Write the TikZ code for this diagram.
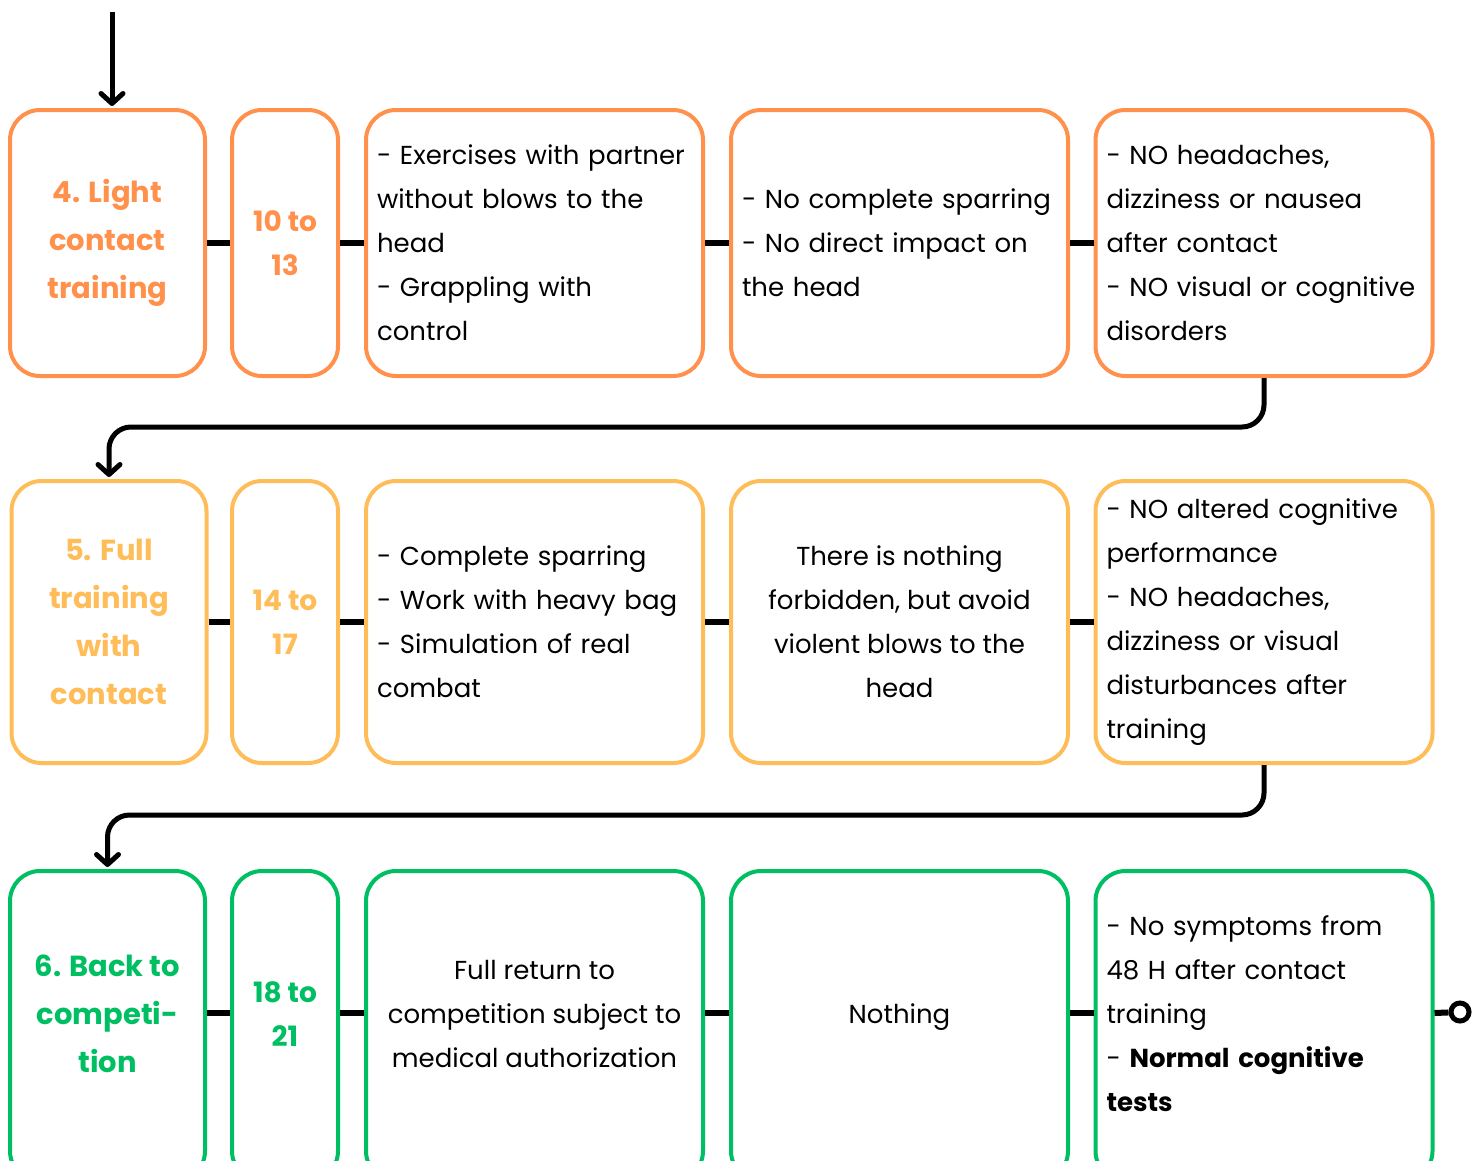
\documentclass[tikz,border=0pt]{standalone}
\usepackage{fontspec}
\setmainfont{Poppins}
\usetikzlibrary{arrows.meta}
\definecolor{lightorange}{HTML}{FF914D}
\definecolor{fullyellow}{HTML}{FFBD59}
\definecolor{backgreen}{HTML}{00BF63}
\begin{document}
\begin{tikzpicture}[x=1pt, y=-1pt,
    box/.style={draw, line width=4pt, rounded corners=30pt, inner sep=0pt},
    phase/.style={box, minimum width=195pt, align=center, font=\bfseries\fontsize{29}{48}\selectfont},
    days/.style={box, minimum width=106pt, align=center, font=\bfseries\fontsize{28}{44}\selectfont},
    wide/.style={box, minimum width=337pt, text=black, font=\fontsize{26}{44}\selectfont},
    lefttext/.style={align=left, text width=315pt},
    rowA/.style={draw=lightorange, text=lightorange, minimum height=266pt},
    rowB/.style={draw=fullyellow, text=fullyellow, minimum height=282pt},
    rowC/.style={draw=backgreen, text=backgreen, minimum height=310pt, text depth=24pt},
    link/.style={line width=6pt},
    flow/.style={line width=5pt, rounded corners=22pt, shorten >=2pt, -{Straight Barb[length=10pt,width=22pt,round]}}
]
    \useasboundingbox (0,0) rectangle (1481,1160);
    \clip (0,0) rectangle (1481,1160);

    % Row 4: light contact
    \node[rowA, phase] (A1) at (107.5,243) {4. Light\\contact\\training};
    \node[rowA, days] (A2) at (285,243) {10 to\\13};
    \node[rowA, wide, lefttext] (A3) at (534.5,243) {- Exercises with partner\\without blows to the\\head\\- Grappling with\\control};
    \node[rowA, wide, lefttext] (A4) at (899.5,243) {- No complete sparring\\- No direct impact on\\the head};
    \node[rowA, wide, lefttext] (A5) at (1264,243) {- NO headaches,\\dizziness or nausea\\after contact\\- NO visual or cognitive\\disorders};

    % Row 5: full training
    \node[rowB, phase] (B1) at (109,622) {5. Full\\training\\with\\contact};
    \node[rowB, days] (B2) at (285,622) {14 to\\17};
    \node[rowB, wide, lefttext] (B3) at (534.5,622) {- Complete sparring\\- Work with heavy bag\\- Simulation of real\\combat};
    \node[rowB, wide, align=center] (B4) at (899.5,622) {There is nothing\\forbidden, but avoid\\violent blows to the\\head};
    \node[rowB, wide, lefttext] (B5) at (1264,622) {- NO altered cognitive\\performance\\- NO headaches,\\dizziness or visual\\disturbances after\\training};

    % Row 6: back to competition
    \node[rowC, phase] (C1) at (107.5,1026) {6. Back to\\competi-\\tion};
    \node[rowC, days] (C2) at (285,1026) {18 to\\21};
    \node[rowC, wide, align=center] (C3) at (534.5,1026) {Full return to\\competition subject to\\medical authorization};
    \node[rowC, wide, align=center] (C4) at (899.5,1026) {Nothing};
    \node[rowC, wide, lefttext, text depth=200pt] (C5) at (1264,1026) {- No symptoms from\\48 H after contact\\training\\- \textbf{Normal cognitive}\\\textbf{tests}};
    \node[draw, circle, line width=5pt, minimum size=18pt, inner sep=0pt] (stop) at (1460,1012) {};

    % Links inside the rows
    \draw[link] (A1) -- (A2);
    \draw[link] (A2) -- (A3);
    \draw[link] (A3) -- (A4);
    \draw[link] (A4) -- (A5);
    \draw[link] (B1) -- (B2);
    \draw[link] (B2) -- (B3);
    \draw[link] (B3) -- (B4);
    \draw[link] (B4) -- (B5);
    \draw[link] ([yshift=13pt]C1.east) -- ([yshift=13pt]C2.west);
    \draw[link] ([yshift=13pt]C2.east) -- ([yshift=13pt]C3.west);
    \draw[link] ([yshift=13pt]C3.east) -- ([yshift=13pt]C4.west);
    \draw[link] ([yshift=13pt]C4.east) -- ([yshift=13pt]C5.west);
    \draw[link] ([yshift=13pt]C5.east) -- (stop);

    % Flow between the rows
    \coordinate (start) at (112,12);
    \draw[flow] (start) -- (start |- A1.north);
    \draw[flow] (A5.south) |- (B1.north |- 0,427) -- (B1.north);
    \draw[flow] (B5.south) |- (C1.north |- 0,815) -- (C1.north);

\end{tikzpicture}
\end{document}
